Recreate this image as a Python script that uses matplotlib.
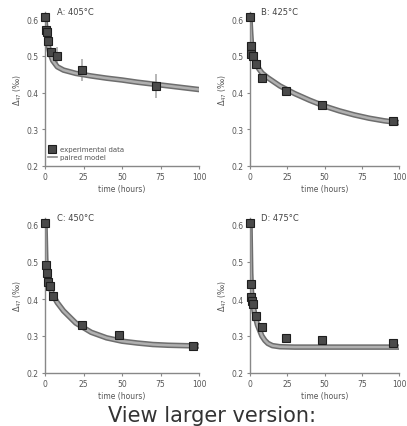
import matplotlib
matplotlib.use("Agg")
import matplotlib.pyplot as plt
from matplotlib.lines import Line2D

# ---- data ----
panel_titles = ["A: 405°C", "B: 425°C", "C: 450°C", "D: 475°C"]

t_A = [0, 0.5, 1, 2, 4, 8, 24, 72]
d_A = [0.605, 0.570, 0.565, 0.540, 0.510, 0.500, 0.460, 0.418]
e_A = [0, 0, 0, 0.010, 0.010, 0.025, 0.030, 0.033]

t_B = [0, 0.5, 1, 2, 4, 8, 24, 48, 96]
d_B = [0.605, 0.527, 0.505, 0.500, 0.478, 0.440, 0.405, 0.365, 0.322]

t_C = [0, 0.5, 1, 2, 3, 5, 24, 48, 96]
d_C = [0.605, 0.492, 0.470, 0.445, 0.435, 0.408, 0.331, 0.302, 0.274]

t_D = [0, 0.5, 1, 1.5, 2, 4, 8, 24, 48, 96]
d_D = [0.605, 0.440, 0.405, 0.395, 0.386, 0.355, 0.325, 0.295, 0.290, 0.282]

# model curves
mt_A = [0, 0.5, 1, 2, 3, 5, 8, 12, 20, 30, 40, 50, 60, 70, 80, 90, 100]
m_A = [0.600, 0.575, 0.555, 0.530, 0.510, 0.487, 0.470, 0.461, 0.452, 0.445, 0.439, 0.434, 0.428, 0.423, 0.418, 0.413, 0.408]

mt_B = [0, 0.5, 1, 2, 3, 5, 8, 12, 20, 30, 40, 50, 60, 70, 80, 90, 100]
m_B = [0.600, 0.560, 0.530, 0.502, 0.488, 0.470, 0.453, 0.440, 0.418, 0.397, 0.379, 0.363, 0.350, 0.339, 0.330, 0.323, 0.318]

mt_C = [0, 0.5, 1, 2, 3, 5, 8, 12, 20, 30, 40, 50, 60, 70, 80, 90, 100]
m_C = [0.600, 0.510, 0.470, 0.447, 0.435, 0.412, 0.390, 0.368, 0.335, 0.310, 0.295, 0.286, 0.281, 0.277, 0.275, 0.274, 0.273]

mt_D = [0, 0.5, 1, 2, 3, 5, 8, 10, 12, 15, 20, 30, 50, 75, 100]
m_D = [0.600, 0.470, 0.420, 0.385, 0.362, 0.330, 0.300, 0.288, 0.280, 0.274, 0.271, 0.270, 0.270, 0.270, 0.270]

xticks = [0, 25, 50, 75, 100]
yticks = [0.2, 0.3, 0.4, 0.5, 0.6]
ytick_labels = ["0.2", "0.3", "0.4", "0.5", "0.6"]

W, H = 407, 427
fig = plt.figure(figsize=(W / 100, H / 100), dpi=100)

# axes rectangles in pixels: (left, x100, y0.2, y0.6)
rects = [(45, 199, 167, 20), (250, 399, 167, 20), (45, 199, 374, 226), (250, 399, 374, 226)]

datasets = [(t_A, d_A, e_A, mt_A, m_A), (t_B, d_B, None, mt_B, m_B),
            (t_C, d_C, None, mt_C, m_C), (t_D, d_D, None, mt_D, m_D)]

axcol = "#888888"
for i, (rect, ds, title) in enumerate(zip(rects, datasets, panel_titles)):
    l, r, yb, y6 = rect
    per = (yb - y6) / 0.4
    top = y6 - 0.02 * per
    ax = fig.add_axes([l / W, (H - yb) / H, (r - l) / W, (yb - top) / H])
    t, d, e, mt, m = ds
    ax.plot(mt, m, color="#6e6e6e", lw=4.0, solid_capstyle="round", zorder=2)
    ax.plot(mt, m, color="#b0b0b0", lw=1.8, solid_capstyle="round", zorder=2.1)
    if e is not None:
        ax.errorbar(t, d, yerr=e, fmt="none", ecolor="#aaaaaa", elinewidth=1.2, capsize=0, zorder=1.5)
    ax.plot(t, d, ls="none", marker="s", ms=6.2, mfc="#4a4a4a", mec="#1e1e1e", mew=0.8,
            zorder=3, clip_on=False)
    ax.set_xlim(0, 100)
    ax.set_ylim(0.2, 0.62)
    ax.set_xticks(xticks)
    ax.set_xticklabels([str(x) for x in xticks])
    ax.set_yticks(yticks)
    ax.set_yticklabels(ytick_labels)
    for s in ["top", "right"]:
        ax.spines[s].set_visible(False)
    for s in ["left", "bottom"]:
        ax.spines[s].set_color(axcol)
        ax.spines[s].set_linewidth(1.0)
    ax.tick_params(colors=axcol, labelcolor="#555555", labelsize=5.5, length=2.5, width=0.8, pad=2)
    ax.set_xlabel("time (hours)", fontsize=5.5, color="#555555", labelpad=2)
    ax.set_ylabel("Δ$_{47}$ (‰)", fontsize=5.5, color="#555555", labelpad=2)
    ax.text(0.075, 1.0, title, transform=ax.transAxes, fontsize=6, color="#444444",
            va="center", ha="left")
    if i == 0:
        h1 = Line2D([], [], ls="none", marker="s", ms=5.5, mfc="#4a4a4a", mec="#1e1e1e", mew=0.8)
        h2 = Line2D([], [], color="#8a8a8a", lw=1.2)
        ax.legend([h1, h2], ["experimental data", "paired model"], loc="lower left",
                  bbox_to_anchor=(-0.01, 0.005), frameon=False, fontsize=5,
                  labelcolor="#555555", handlelength=1.2, handletextpad=0.5,
                  borderpad=0.2, labelspacing=0.3)

fig.text(212 / W, 1 - 422 / H, "View larger version:", ha="center", va="baseline",
         fontsize=15, color="#333333", family="DejaVu Sans")

fig.savefig("out.png", dpi=100)
